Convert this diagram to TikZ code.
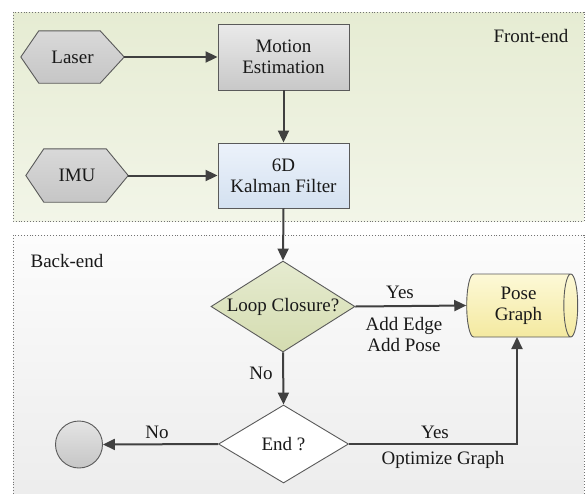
\documentclass[tikz,border=0pt]{standalone}
\usepackage{fontspec}
\setmainfont{Liberation Serif}
\usetikzlibrary{shapes.geometric,arrows.meta,calc}
\definecolor{linec}{HTML}{404040}
\definecolor{borderc}{HTML}{5A5A5A}
\begin{document}
\begin{tikzpicture}[x=1pt,y=-1pt,
  every node/.style={font=\fontsize{19}{21}\selectfont, text=black!90},
  flow/.style={draw=linec, line width=2pt, -{Triangle[length=12pt,width=11pt]}},
  boxnode/.style={draw=borderc, line width=0.9pt, minimum width=131pt, minimum height=66pt, align=center, inner sep=0pt},
  hexnode/.style={inner sep=0pt, minimum height=52pt},
  hexshape/.style={draw=borderc, line width=0.9pt, top color=gray!30, bottom color=gray!45},
  region/.style={draw=black!55, dotted, line width=0.9pt},
  lbl/.style={inner sep=0pt}
]
\useasboundingbox (0,0) rectangle (586,493);
% regions
\path[region, top color={rgb,255:red,230;green,236;blue,211}, bottom color={rgb,255:red,242;green,245;blue,232}] (13,12) rectangle (584,221);
\path[region, top color={rgb,255:red,252;green,252;blue,252}, bottom color={rgb,255:red,236;green,236;blue,236}] (13,235) rectangle (584,505);
\node[lbl] (felabel) at (531,36) {Front-end};
\node[lbl] (belabel) at (67,261) {Back-end};
% hexagons
\node[hexnode, minimum width=103pt] (laser) at (72.5,57) {};
\path[hexshape] (laser.west) -- ($(laser.north west)+(18,0)$) -- ($(laser.north east)+(-24,0)$) -- (laser.east) -- ($(laser.south east)+(-24,0)$) -- ($(laser.south west)+(18,0)$) -- cycle;
\node[lbl] (lasert) at (laser.center) {Laser};
\node[hexnode, minimum width=102pt, minimum height=53pt] (imu) at (77,175.5) {};
\path[hexshape] (imu.west) -- ($(imu.north west)+(18,0)$) -- ($(imu.north east)+(-22,0)$) -- (imu.east) -- ($(imu.south east)+(-22,0)$) -- ($(imu.south west)+(18,0)$) -- cycle;
\node[lbl] (imut) at (imu.center) {IMU};
% boxes
\node[boxnode, top color={rgb,255:red,234;green,234;blue,234}, bottom color={rgb,255:red,200;green,200;blue,200}] (motion) at (283.5,57) {Motion\\Estimation};
\node[boxnode, top color={rgb,255:red,236;green,242;blue,251}, bottom color={rgb,255:red,212;green,225;blue,240}, minimum height=65pt] (kalman) at (283.5,175.5) {6D\\Kalman Filter};
% diamonds
\node[diamond, draw=borderc, line width=0.9pt, inner sep=0pt, minimum width=144pt, minimum height=91pt, top color={rgb,255:red,230;green,235;blue,208}, bottom color={rgb,255:red,212;green,220;blue,176}] (loop) at (283,306.5) {};
\node[lbl] (loopt) at (loop.center) {Loop Closure?};
\node[diamond, draw=borderc, line width=0.9pt, inner sep=0pt, minimum width=130pt, minimum height=78pt, fill=white] (end) at (283.5,444) {};
\node[lbl] (endt) at (end.center) {End ?};
% pose graph
\node[cylinder, draw=borderc, line width=0.9pt, shape aspect=0.37, minimum width=63pt, minimum height=111pt, inner sep=0pt, align=center, top color={rgb,255:red,253;green,249;blue,215}, bottom color={rgb,255:red,244;green,233;blue,160}] (pose) at (518.5,305.5) {Pose\\Graph};
% terminal
\node[circle, draw=borderc, line width=0.9pt, minimum size=47pt, inner sep=0pt, top color={rgb,255:red,228;green,228;blue,228}, bottom color={rgb,255:red,198;green,198;blue,198}] (stop) at (79,444.5) {};
% connectors
\draw[flow] (laser.east) -- (motion.west);
\draw[flow] (imu.east) -- (kalman.west);
\draw[flow] (motion.south) -- (kalman.north);
\draw[flow] (kalman.south) -- (loop.north);
\draw[flow] (loop.east) -- (pose.west);
\draw[flow] (loop.south) -- (end.north);
\draw[flow] (end.west) -- (stop.east);
\coordinate (posein) at (517,337);
\draw[flow] (end.east) -| (posein);
% edge labels
\node[lbl] (yes1) at (400,292) {Yes};
\node[lbl, align=center] (addl) at (404,334) {Add Edge\\Add Pose};
\node[lbl] (no1) at (261,373) {No};
\node[lbl] (no2) at (157,432) {No};
\node[lbl] (yes2) at (435,432) {Yes};
\node[lbl] (optl) at (443,460) {Optimize Graph};
\end{tikzpicture}
\end{document}
